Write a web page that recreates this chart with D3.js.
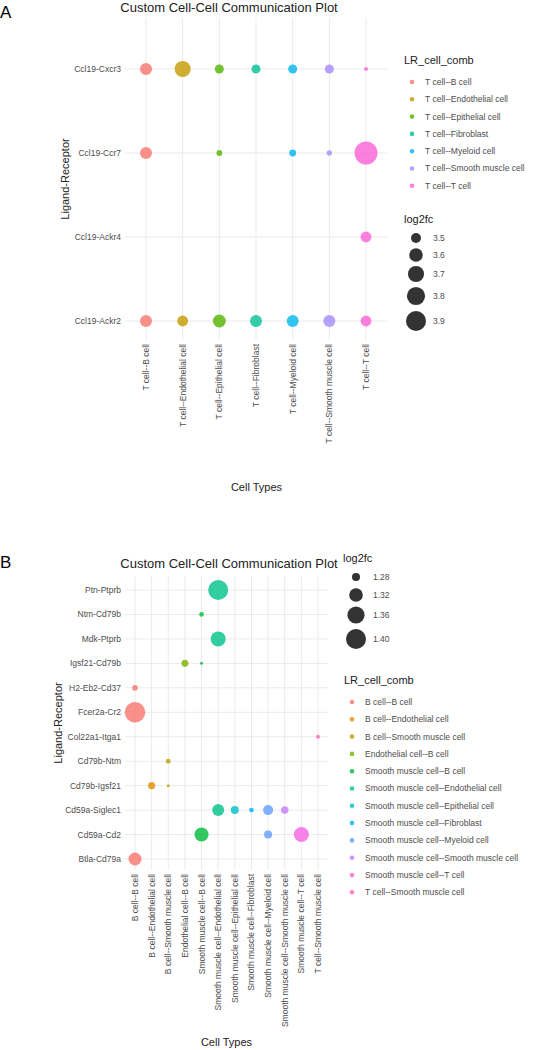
<!DOCTYPE html>
<html><head><meta charset="utf-8">
<script src="https://cdn.jsdelivr.net/npm/d3@7"></script>
<style>body{margin:0;background:#fff;font-family:"Liberation Sans",Arial,sans-serif;}</style>
</head><body><svg id="c" width="552" height="1050"></svg>
<script>
// Panel A data
var catsA = ["T cell--B cell","T cell--Endothelial cell","T cell--Epithelial cell","T cell--Fibroblast","T cell--Myeloid cell","T cell--Smooth muscle cell","T cell--T cell"];
var lrA = ["Ccl19-Cxcr3","Ccl19-Ccr7","Ccl19-Ackr4","Ccl19-Ackr2"];
var colorsA = ["#F8766D","#C49A00","#53B400","#00C094","#00B6EB","#A58AFF","#FB61D7"];
var pointsA = [
  ["Ccl19-Cxcr3","T cell--B cell",3.55],["Ccl19-Cxcr3","T cell--Endothelial cell",3.70],
  ["Ccl19-Cxcr3","T cell--Epithelial cell",3.48],["Ccl19-Cxcr3","T cell--Fibroblast",3.48],
  ["Ccl19-Cxcr3","T cell--Myeloid cell",3.48],["Ccl19-Cxcr3","T cell--Smooth muscle cell",3.48],
  ["Ccl19-Cxcr3","T cell--T cell",3.434],
  ["Ccl19-Ccr7","T cell--B cell",3.55],["Ccl19-Ccr7","T cell--Epithelial cell",3.44],
  ["Ccl19-Ccr7","T cell--Myeloid cell",3.45],["Ccl19-Ccr7","T cell--Smooth muscle cell",3.437],
  ["Ccl19-Ccr7","T cell--T cell",4.09],
  ["Ccl19-Ackr4","T cell--T cell",3.52],
  ["Ccl19-Ackr2","T cell--B cell",3.55],["Ccl19-Ackr2","T cell--Endothelial cell",3.52],
  ["Ccl19-Ackr2","T cell--Epithelial cell",3.58],["Ccl19-Ackr2","T cell--Fibroblast",3.55],
  ["Ccl19-Ackr2","T cell--Myeloid cell",3.55],["Ccl19-Ackr2","T cell--Smooth muscle cell",3.55],
  ["Ccl19-Ackr2","T cell--T cell",3.52]
];
var sizeTicksA = [3.5,3.6,3.7,3.8,3.9];

// Panel B data
var catsB = ["B cell--B cell","B cell--Endothelial cell","B cell--Smooth muscle cell","Endothelial cell--B cell","Smooth muscle cell--B cell","Smooth muscle cell--Endothelial cell","Smooth muscle cell--Epithelial cell","Smooth muscle cell--Fibroblast","Smooth muscle cell--Myeloid cell","Smooth muscle cell--Smooth muscle cell","Smooth muscle cell--T cell","T cell--Smooth muscle cell"];
var lrB = ["Ptn-Ptprb","Ntm-Cd79b","Mdk-Ptprb","Igsf21-Cd79b","H2-Eb2-Cd37","Fcer2a-Cr2","Col22a1-Itga1","Cd79b-Ntm","Cd79b-Igsf21","Cd59a-Siglec1","Cd59a-Cd2","Btla-Cd79a"];
var colorsB = ["#F8766D","#DE8C00","#B79F00","#7CAE00","#00BA38","#00C08B","#00BFC4","#00B4F0","#619CFF","#C77CFF","#F564E3","#FF64B0"];
var pointsB = [
  ["Ptn-Ptprb","Smooth muscle cell--Endothelial cell",1.400],
  ["Ntm-Cd79b","Smooth muscle cell--B cell",1.270],
  ["Mdk-Ptprb","Smooth muscle cell--Endothelial cell",1.334],
  ["Igsf21-Cd79b","Endothelial cell--B cell",1.276],["Igsf21-Cd79b","Smooth muscle cell--B cell",1.2686],
  ["H2-Eb2-Cd37","B cell--B cell",1.272],
  ["Fcer2a-Cr2","B cell--B cell",1.409],
  ["Col22a1-Itga1","T cell--Smooth muscle cell",1.269],
  ["Cd79b-Ntm","B cell--Smooth muscle cell",1.270],
  ["Cd79b-Igsf21","B cell--Endothelial cell",1.276],["Cd79b-Igsf21","B cell--Smooth muscle cell",1.2686],
  ["Cd59a-Siglec1","Smooth muscle cell--Endothelial cell",1.305],["Cd59a-Siglec1","Smooth muscle cell--Epithelial cell",1.280],
  ["Cd59a-Siglec1","Smooth muscle cell--Fibroblast",1.270],["Cd59a-Siglec1","Smooth muscle cell--Myeloid cell",1.291],
  ["Cd59a-Siglec1","Smooth muscle cell--Smooth muscle cell",1.278],
  ["Cd59a-Cd2","Smooth muscle cell--B cell",1.324],["Cd59a-Cd2","Smooth muscle cell--Myeloid cell",1.280],
  ["Cd59a-Cd2","Smooth muscle cell--T cell",1.334],
  ["Btla-Cd79a","B cell--B cell",1.314]
];
var sizeTicksB = [1.28,1.32,1.36,1.40];

var svg = d3.select("#c");
var grey = "#4d4d4d";

function panel(o) {
  var g = svg.append("g");
  var x = d3.scalePoint().domain(o.cats).range([o.x0, o.x1]);
  var y = d3.scalePoint().domain(o.lr).range([o.y0, o.y1]);
  var col = d3.scaleOrdinal().domain(o.cats).range(o.colors);
  var vmin = d3.min(o.points, function(d) { return d[2]; });
  var vmax = d3.max(o.points, function(d) { return d[2]; });
  //area scale like ggplot: radius grows with sqrt of the rescaled value
  var t = d3.scaleLinear().domain([vmin, vmax]).range([0, 1]).clamp(true);
  var r = function(v) { return o.rmin + (o.rmax - o.rmin) * Math.sqrt(t(v)); };

  // grid
  g.selectAll(".gx").data(o.cats).enter().append("line")
    .attr("x1", function(d) { return x(d); }).attr("x2", function(d) { return x(d); })
    .attr("y1", o.gy0).attr("y2", o.gy1).attr("stroke", "#ebebeb");
  g.selectAll(".gy").data(o.lr).enter().append("line")
    .attr("y1", function(d) { return y(d); }).attr("y2", function(d) { return y(d); })
    .attr("x1", o.gx0).attr("x2", o.gx1).attr("stroke", "#ebebeb");

  // points
  g.selectAll("circle.pt").data(o.points).enter().append("circle")
    .attr("cx", function(d) { return x(d[1]); })
    .attr("cy", function(d) { return y(d[0]); })
    .attr("r", function(d) { return r(d[2]); })
    .attr("fill", function(d) { return col(d[1]); })
    .attr("fill-opacity", 0.8);

  // y labels
  g.selectAll(".yl").data(o.lr).enter().append("text")
    .attr("x", o.gx0 - 4).attr("y", function(d) { return y(d); }).attr("dy", "0.35em")
    .attr("text-anchor", "end").attr("font-size", 8.5).attr("fill", grey).text(function(d) { return d; });
  // x labels rotated
  g.selectAll(".xl").data(o.cats).enter().append("text")
    .attr("transform", function(d) { return "translate(" + (x(d) + 3) + "," + (o.gy1 + 4) + ") rotate(-90)"; })
    .attr("text-anchor", "end").attr("font-size", 8.5).attr("fill", grey).text(function(d) { return d; });

  g.append("text").attr("x", (o.gx0 + o.gx1) / 2).attr("y", o.xtitleY).attr("text-anchor", "middle")
    .attr("font-size", 11).attr("fill", "#222").text("Cell Types");
  g.append("text").attr("transform", "translate(" + o.ytitleX + "," + ((o.gy0 + o.gy1) / 2) + ") rotate(-90)")
    .attr("text-anchor", "middle").attr("font-size", 11).attr("fill", "#222").text("Ligand-Receptor");
  g.append("text").attr("x", o.titleX).attr("y", o.titleY).attr("text-anchor", "middle")
    .attr("font-size", 13).attr("fill", "#222").text("Custom Cell-Cell Communication Plot");
  g.append("text").attr("x", 0).attr("y", o.tagY).attr("font-size", 17).attr("fill", "#000").text(o.tag);

  // colour legend
  g.append("text").attr("x", o.cLegX).attr("y", o.cLegY).attr("font-size", 11).attr("fill", "#222").text("LR_cell_comb");
  var li = g.selectAll(".li").data(o.cats).enter().append("g")
    .attr("transform", function(d, i) { return "translate(" + o.cLegX + "," + (o.cLegY + 18 + i * o.cStep) + ")"; });
  li.append("circle").attr("cx", 8).attr("r", 2.3).attr("fill", function(d) { return col(d); }).attr("fill-opacity", 0.8);
  li.append("text").attr("x", 21).attr("dy", "0.35em").attr("font-size", 8.5).attr("fill", grey).text(function(d) { return d; });

  // size legend
  g.append("text").attr("x", o.sLegX).attr("y", o.sLegY).attr("font-size", 11).attr("fill", "#222").text("log2fc");
  var sl = g.selectAll(".sl").data(o.sizeTicks).enter().append("g")
    .attr("transform", function(d, i) { return "translate(" + o.sLegX + "," + o.sY[i] + ")"; });
  sl.append("circle").attr("cx", o.sCx).attr("r", function(d) { return r(d); }).attr("fill", "#333");
  sl.append("text").attr("x", o.sCx + 17).attr("dy", "0.35em").attr("font-size", 8.5).attr("fill", grey)
    .text(function(d) { return d.toFixed(o.dec); });
}

panel({cats: catsA, lr: lrA, colors: colorsA, points: pointsA, sizeTicks: sizeTicksA, dec: 1,
  x0: 146, x1: 366, y0: 69, y1: 321, gx0: 125, gx1: 388, gy0: 18, gy1: 340,
  rmin: 2, rmax: 11.5, xtitleY: 491, ytitleX: 69, titleX: 229, titleY: 12, tag: "A", tagY: 18,
  cLegX: 404, cLegY: 64, cStep: 17.3, sLegX: 404, sLegY: 223, sCx: 12, sY: [238, 255, 274, 296, 321]});

panel({cats: catsB, lr: lrB, colors: colorsB, points: pointsB, sizeTicks: sizeTicksB, dec: 2,
  x0: 135, x1: 318, y0: 590, y1: 859, gx0: 125, gx1: 328, gy0: 576, gy1: 870,
  rmin: 1.5, rmax: 10.3, xtitleY: 1046, ytitleX: 62, titleX: 229, titleY: 568, tag: "B", tagY: 568,
  cLegX: 344, cLegY: 684, cStep: 17.3, sLegX: 343, sLegY: 562, sCx: 13, sY: [577, 595, 615, 639]});
</script></body></html>
